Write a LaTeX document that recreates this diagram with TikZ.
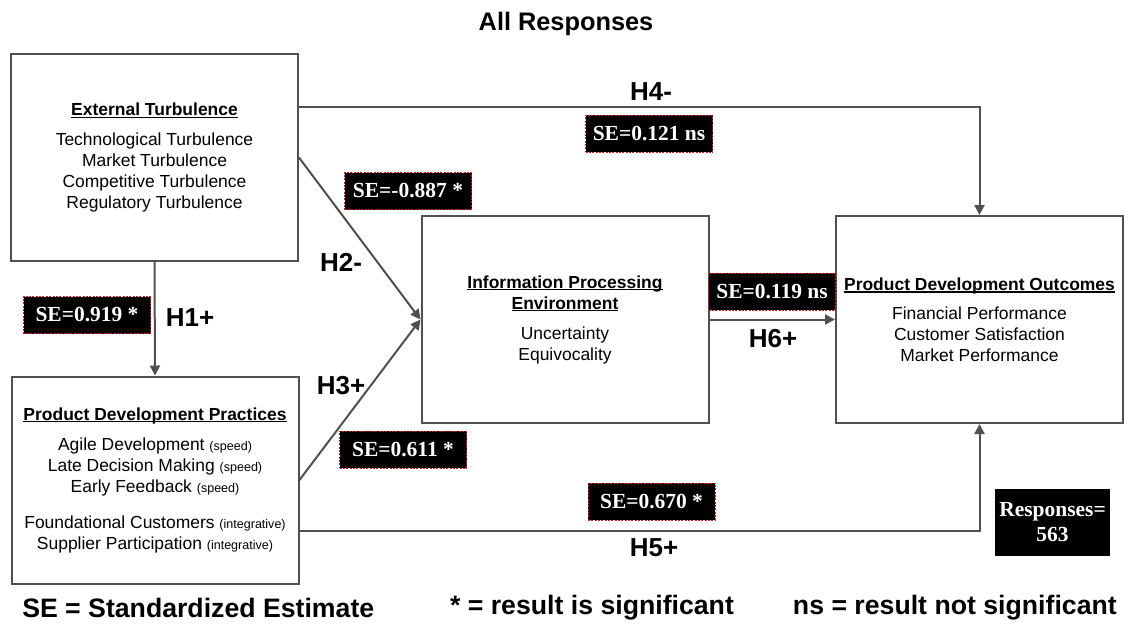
\documentclass[tikz,border=0pt]{standalone}
\usepackage{fontspec}
\setmainfont{Liberation Sans}
\newfontfamily\tnr{Liberation Serif}
\usetikzlibrary{arrows.meta,calc}
\definecolor{lg}{RGB}{80,80,80}
\definecolor{dred}{RGB}{200,30,30}
\newcommand\hdr[1]{{\bfseries\setbox0\hbox{#1}\rlap{\rule[-1.7pt]{\wd0}{0.9pt}}\box0}}
\newcommand\sm[1]{{\fontsize{9.4pt}{10pt}\selectfont #1}}
\begin{document}
\begin{tikzpicture}[x=0.75pt,y=-0.75pt,
  box/.style={draw=lg,line width=1.5pt,fill=white,inner sep=0pt,align=center,
    font=\fontsize{13.1pt}{15.75pt}\selectfont,
    minimum width={287*0.75pt},minimum height={207*0.75pt}},
  sebox/.style={fill=black,draw=dred,dash pattern=on 1.5pt off 1pt,line width=0.6pt,
    text=white,font=\tnr\bfseries\fontsize{16.1pt}{18pt}\selectfont,
    minimum width={127*0.75pt},minimum height={37*0.75pt},inner sep=0pt},
  hlab/.style={font=\bfseries\fontsize{19.5pt}{22pt}\selectfont,inner sep=0pt},
  foot/.style={font=\bfseries\fontsize{20pt}{23pt}\selectfont,inner sep=0pt},
  conn/.style={draw=lg,line width=1.5pt},
  arr/.style={conn,-{Triangle[length=7.5pt,width=7.5pt]}}]
\useasboundingbox[fill=white] (0,0) rectangle (1130,626);

\node[font=\bfseries\fontsize{19pt}{22pt}\selectfont,inner sep=0pt] (title) at (566,24) {All Responses};

\node[box] (b1) at (154.5,157.5) {\hdr{External Turbulence}\\[6.75pt]
  Technological Turbulence\\ Market Turbulence\\ Competitive Turbulence\\ Regulatory Turbulence};
\node[box] (b2) at (155,480) {\hdr{Product Development Practices}\\[6.75pt]
  Agile Development \sm{(speed)}\\ Late Decision Making \sm{(speed)}\\ Early Feedback \sm{(speed)}\\[11.25pt]
  Foundational Customers \sm{(integrative)}\\ Supplier Participation \sm{(integrative)}};
\node[box] (b3) at (565,319.5) {\hdr{Information Processing}\\ \hdr{Environment}\\[6.75pt]
  Uncertainty\\ Equivocality};
\node[box] (b4) at (979.5,319.5) {\hdr{Product Development Outcomes}\\[6pt]
  Financial Performance\\ Customer Satisfaction\\ Market Performance};

\draw[arr] ($(b1.north east)!0.256!(b1.south east)$) -| (b4.north);
\draw[arr] (b1.east) -- (b3.west);
\draw[arr] (b2.east) -- (b3.west);
\draw[arr] (b1.south) -- (b2.north);
\draw[arr] (b3.east) -- (b4.west);
\draw[arr] ($(b2.north east)!0.743!(b2.south east)$) -| (b4.south);

\node[sebox] (se4) at (649,133.5) {SE=0.121 ns};
\node[sebox] (se2) at (408,191) {SE=-0.887 *};
\node[sebox] (se1) at (87,315) {SE=0.919 *};
\node[sebox] (se3) at (403,449.5) {SE=0.611 *};
\node[sebox] (se5) at (651.5,501.5) {SE=0.670 *};
\node[sebox] (se6) at (772,291.5) {SE=0.119 ns};

\node[hlab] (h4) at (651,92) {H4-};
\node[hlab] (h2) at (341,262) {H2-};
\node[hlab] (h1) at (190,318) {H1+};
\node[hlab] (h3) at (341,386) {H3+};
\node[hlab] (h6) at (773,339) {H6+};
\node[hlab] (h5) at (654,548) {H5+};

\node[fill=black,text=white,font=\tnr\bfseries\fontsize{16.1pt}{18.75pt}\selectfont,
  align=center,minimum width={115*0.75pt},minimum height={67*0.75pt},inner sep=0pt]
  (resp) at (1052.5,522.5) {Responses=\\563};

\node[foot,anchor=west] (f1) at (22,608) {SE = Standardized Estimate};
\node[foot] (f2) at (592,608) {* = result is significant};
\node[foot,anchor=east] (f3) at (1117,608) {ns = result not significant};
\end{tikzpicture}
\end{document}
